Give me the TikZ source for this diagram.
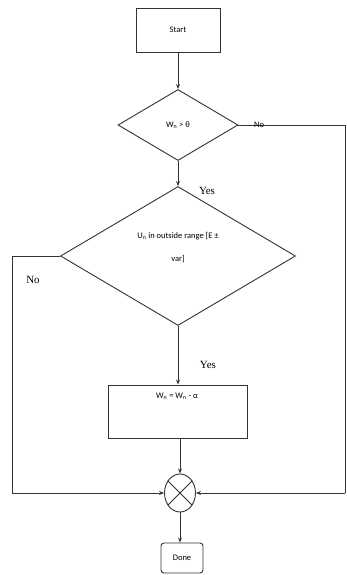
\documentclass[tikz,border=0pt]{standalone}
\usepackage{fontspec}
\setmainfont{Liberation Serif}
\newfontfamily\calfont{Carlito}
\usetikzlibrary{shapes.geometric,arrows.meta}
\begin{document}
\begin{tikzpicture}[x=1pt,y=-1pt,
  line/.style={draw=black!80, line width=0.9pt},
  arr/.style={line, -{Stealth[length=5pt,width=4pt]}},
  box/.style={draw=black!80, line width=0.9pt, inner sep=0pt, font=\calfont\fontsize{8.5}{10}\selectfont},
  plain/.style={inner sep=0pt, font=\calfont\fontsize{8.5}{10}\selectfont},
  lab/.style={inner sep=0pt, font=\fontsize{11}{13}\selectfont}]
\useasboundingbox (0,0) rectangle (346,575);
\fill[white] (0,0) rectangle (346,575);

\node[box, minimum width=84pt, minimum height=44pt] (start) at (178,30) {Start};
\node[box, diamond, minimum width=120pt, minimum height=71pt] (d1) at (178,125) {W\textsubscript{n} > θ};
\node[box, diamond, minimum width=235pt, minimum height=139pt] (d2) at (178,256) {};
\node[plain, align=center] (d2t) at (178,248)
  {U\textsubscript{n} in outside range [E ±\\[13pt] var]};
\node[box, minimum width=139pt, minimum height=53pt] (w) at (178,411.5) {};
\node[plain] (wt) at (177,396) {W\textsubscript{n} = W\textsubscript{n} - α};
\node[ellipse, draw=black!80, line width=0.9pt, minimum width=31pt, minimum height=38pt, inner sep=0pt] (x) at (180,493) {};
\draw[line] (x.45) -- (x.225) (x.135) -- (x.315);
\node[box, rounded corners=3pt, minimum width=42pt, minimum height=30pt] (done) at (182,558) {Done};

\coordinate (r1) at (345,125);
\coordinate (r2) at (345,493);
\coordinate (l1) at (12,256);
\coordinate (l2) at (12,493);

\draw[arr] (start) -- (d1);
\draw[arr] (d1) -- (d2);
\draw[arr] (d2.south) -- (d2.south |- w.north);
\draw[arr] (w.south -| x.north) -- (x.north);
\draw[arr] (x.south) -- (x.south |- done.north);
\draw[line] (d1.east) -- (r1) -- (r2);
\draw[arr] (r2) -- (x.east);
\draw[arr] (d2.west) -- (l1) -- (l2) -- (x.west);

\node[plain] (no1) at (259,125) {No};
\node[lab] (yes1) at (207,191) {Yes};
\node[lab] (no2) at (33,280) {No};
\node[lab] (yes2) at (208,365) {Yes};
\end{tikzpicture}
\end{document}
